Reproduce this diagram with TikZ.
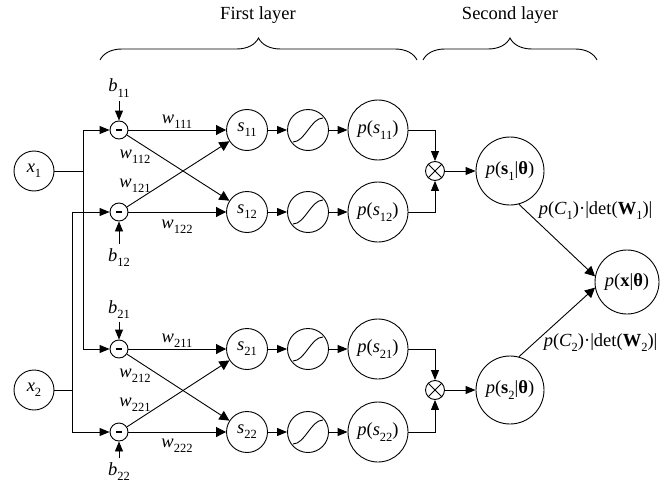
\documentclass[tikz,border=0pt]{standalone}
\usepackage{fontspec}
\setmainfont{Liberation Serif}
\usetikzlibrary{arrows.meta,decorations.pathreplacing}
\newcommand{\ix}[1]{\raisebox{-0.28em}{\fontsize{12.5}{13}\selectfont #1}}

\begin{document}
\begin{tikzpicture}[x=1pt,y=-1pt,line width=0.9pt,
  every node/.style={font=\fontsize{18.5}{20}\selectfont},
  unit/.style={draw,circle,inner sep=0pt,minimum size=#1},
  arr/.style={-{Triangle[length=10pt,width=8pt]}},
  bigarr/.style={-{Triangle[length=10pt,width=10pt]}}]
\useasboundingbox (0,0) rectangle (668,484);
% inputs
\node[unit=40pt] (x1) at (34,171) {\textit{x}\ix{1}};
\node[unit=40pt] (x2) at (34,390) {\textit{x}\ix{2}};
\coordinate (j1) at (83,171);
\coordinate (j2) at (72,390);
% bias subtraction
\node[unit=18pt] (m11) at (119,130) {\rule{6.5pt}{1.6pt}};
\node[unit=18pt] (m12) at (119,212) {\rule{6.5pt}{1.6pt}};
\node[unit=18pt] (m21) at (119,349) {\rule{6.5pt}{1.6pt}};
\node[unit=18pt] (m22) at (119,432) {\rule{6.5pt}{1.6pt}};
\draw (x1) -- (j1);
\draw[arr] (j1) |- (m11);
\draw[arr] (j1) |- (m21);
\draw (x2) -- (j2);
\draw[arr] (j2) |- (m12);
\draw[arr] (j2) |- (m22);
\node[anchor=base] (b11) at (119,92) {\textit{b}\ix{11}};
\node[anchor=base] (b12) at (119,261) {\textit{b}\ix{12}};
\node[anchor=base] (b21) at (119,313) {\textit{b}\ix{21}};
\node[anchor=base] (b22) at (119,475) {\textit{b}\ix{22}};
\draw[arr] (b11) -- (m11);
\draw[arr] (b12) -- (m12);
\draw[arr] (b21) -- (m21);
\draw[arr] (b22) -- (m22);
% sources
\node[unit=41pt] (s11) at (247,130) {\textit{s}\ix{11}};
\node[unit=41pt] (s12) at (247,212) {\textit{s}\ix{12}};
\node[unit=41pt] (s21) at (247,349) {\textit{s}\ix{21}};
\node[unit=41pt] (s22) at (247,432) {\textit{s}\ix{22}};
% unmixing weights
\draw[bigarr] (m11) -- (s11);
\draw[bigarr] (m11) -- (s12);
\draw[bigarr] (m12) -- (s11);
\draw[bigarr] (m12) -- (s12);
\draw[bigarr] (m21) -- (s21);
\draw[bigarr] (m21) -- (s22);
\draw[bigarr] (m22) -- (s21);
\draw[bigarr] (m22) -- (s22);
\node[anchor=base] (w111) at (177,123) {\textit{w}\ix{111}};
\node[anchor=base] (w112) at (135,158) {\textit{w}\ix{112}};
\node[anchor=base] (w121) at (135,187) {\textit{w}\ix{121}};
\node[anchor=base] (w122) at (177,228) {\textit{w}\ix{122}};
\node[anchor=base] (w211) at (177,342) {\textit{w}\ix{211}};
\node[anchor=base] (w212) at (135,377) {\textit{w}\ix{212}};
\node[anchor=base] (w221) at (135,406) {\textit{w}\ix{221}};
\node[anchor=base] (w222) at (177,447) {\textit{w}\ix{222}};
% sigmoids
\node[unit=41pt] (g11) at (308,130) {};
\node[unit=41pt] (g12) at (308,212) {};
\node[unit=41pt] (g21) at (308,349) {};
\node[unit=41pt] (g22) at (308,432) {};
\draw ([shift={(-15,12)}]g11.center) .. controls +(12,0) and +(-12,0) .. ([shift={(15,-12)}]g11.center);
\draw ([shift={(-15,12)}]g12.center) .. controls +(12,0) and +(-12,0) .. ([shift={(15,-12)}]g12.center);
\draw ([shift={(-15,12)}]g21.center) .. controls +(12,0) and +(-12,0) .. ([shift={(15,-12)}]g21.center);
\draw ([shift={(-15,12)}]g22.center) .. controls +(12,0) and +(-12,0) .. ([shift={(15,-12)}]g22.center);
\draw[arr] (s11) -- (g11);
\draw[arr] (s12) -- (g12);
\draw[arr] (s21) -- (g21);
\draw[arr] (s22) -- (g22);
% source densities
\node[unit=60pt] (p11) at (378,130) {\textit{p}(\textit{s}\ix{11})};
\node[unit=60pt] (p12) at (378,212) {\textit{p}(\textit{s}\ix{12})};
\node[unit=60pt] (p21) at (378,349) {\textit{p}(\textit{s}\ix{21})};
\node[unit=60pt] (p22) at (378,432) {\textit{p}(\textit{s}\ix{22})};
\draw[arr] (g11) -- (p11);
\draw[arr] (g12) -- (p12);
\draw[arr] (g21) -- (p21);
\draw[arr] (g22) -- (p22);
% products
\node[unit=19pt] (mul1) at (435,171) {};
\node[unit=19pt] (mul2) at (435,390) {};
\draw (mul1.45) -- (mul1.225) (mul1.135) -- (mul1.-45);
\draw (mul2.45) -- (mul2.225) (mul2.135) -- (mul2.-45);
\draw[arr] (p11) -| (mul1);
\draw[arr] (p12) -| (mul1);
\draw[arr] (p21) -| (mul2);
\draw[arr] (p22) -| (mul2);
% second layer
\node[unit=68pt] (ps1) at (510,171) {\textit{p}(\textbf{s}\ix{1}|\textbf{θ})};
\node[unit=68pt] (ps2) at (510,390) {\textit{p}(\textbf{s}\ix{2}|\textbf{θ})};
\node[unit=64pt] (px) at (627,282) {\textit{p}(\textbf{x}|\textbf{θ})};
\draw[arr] (mul1) -- (ps1);
\draw[arr] (mul2) -- (ps2);
\draw[bigarr] (ps1.-75) -- (px.170);
\draw[bigarr] (ps2.75) -- (px.190);
\node[anchor=base west] (c1) at (535,214) {\textit{p}(\textit{C}\ix{1})·|det(\textbf{W}\ix{1})|};
\node[anchor=base west] (c2) at (540,346) {\textit{p}(\textit{C}\ix{2})·|det(\textbf{W}\ix{2})|};
% layer braces
\draw[decorate,decoration={brace,amplitude=22pt}] (100,60) -- (417,60);
\draw[decorate,decoration={brace,amplitude=22pt}] (423,60) -- (597,60);
\node[anchor=base] (l1) at (258,20) {First layer};
\node[anchor=base] (l2) at (510,20) {Second layer};
\end{tikzpicture}
\end{document}
